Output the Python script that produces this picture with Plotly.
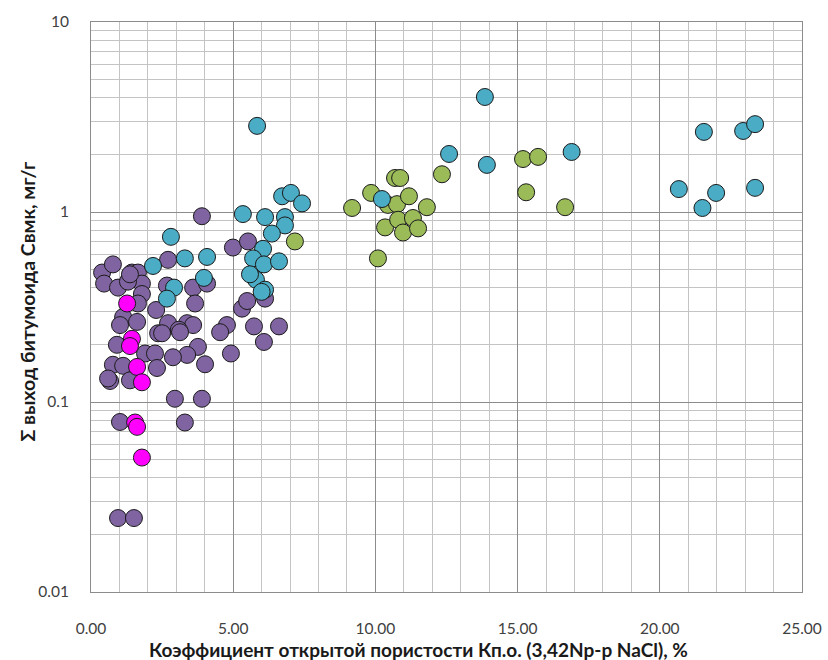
import plotly.graph_objects as go

# Series 1 (purple)
purple_x = [0.39, 0.77, 0.46, 0.95, 1.44, 1.65, 1.34, 1.79, 1.79, 2.71, 2.67, 3.59, 4.08, 3.66, 2.29,
            1.65, 1.13, 1.62, 1.02, 0.91, 2.36, 2.71, 2.50, 3.38, 3.59, 3.09, 4.78, 4.54, 5.31, 5.49,
            5.73, 6.61, 6.08, 4.92, 3.76, 3.38, 2.88, 4.01, 1.90, 2.25, 2.32, 0.77, 1.13, 0.67, 1.37,
            2.95, 3.90, 1.02, 3.30, 0.95, 1.51, 3.90, 4.99, 5.52, 6.12, 1.30, 1.37, 0.60, 3.13]
purple_y = [0.48, 0.53, 0.42, 0.40, 0.48, 0.48, 0.44, 0.42, 0.37, 0.56, 0.41, 0.40, 0.42, 0.33, 0.305,
            0.33, 0.28, 0.264, 0.254, 0.20, 0.23, 0.26, 0.23, 0.26, 0.254, 0.24, 0.254, 0.233, 0.31, 0.34,
            0.25, 0.25, 0.207, 0.18, 0.195, 0.177, 0.172, 0.158, 0.18, 0.18, 0.151, 0.157, 0.155, 0.129, 0.13,
            0.104, 0.104, 0.0785, 0.078, 0.0245, 0.0245, 0.95, 0.65, 0.70, 0.35, 0.43, 0.47, 0.133, 0.233]

# Series 2 (green)
green_x = [7.17, 9.18, 9.85, 10.09, 10.34, 10.44, 10.69, 10.87, 10.76, 10.80, 10.97, 11.18, 11.32,
           11.50, 11.81, 12.34, 15.19, 15.72, 15.30, 16.67]
green_y = [0.70, 1.05, 1.26, 0.57, 0.83, 1.09, 1.51, 1.51, 1.10, 0.91, 0.78, 1.21, 0.93,
           0.82, 1.06, 1.58, 1.90, 1.95, 1.27, 1.06]

# Series 3 (magenta)
magenta_x = [1.27, 1.44, 1.37, 1.62, 1.79, 1.55, 1.62, 1.79]
magenta_y = [0.33, 0.215, 0.197, 0.153, 0.127, 0.078, 0.074, 0.051]

# Series 4 (teal)
teal_x = [5.84, 13.85, 13.92, 12.59, 16.90, 21.55, 22.93, 23.35, 20.67, 21.98, 21.50, 23.35, 10.23,
          6.72, 7.03, 7.42, 5.34, 6.12, 6.82, 6.82, 6.36, 6.05, 5.70, 6.08, 6.61, 5.80, 6.12, 5.59,
          4.08, 3.30, 3.97, 2.81, 2.18, 2.92, 2.67, 6.00]
teal_y = [2.84, 4.03, 1.77, 2.02, 2.07, 2.64, 2.67, 2.90, 1.32, 1.26, 1.05, 1.34, 1.17,
          1.21, 1.26, 1.11, 0.975, 0.94, 0.94, 0.85, 0.77, 0.64, 0.57, 0.53, 0.55, 0.44, 0.39, 0.47,
          0.58, 0.57, 0.45, 0.74, 0.52, 0.40, 0.35, 0.38]

x_ticks = [0, 5, 10, 15, 20, 25]
x_tick_labels = ["0.00", "5.00", "10.00", "15.00", "20.00", "25.00"]
y_ticks = [0.01, 0.1, 1, 10]
y_tick_labels = ["0.01", "0.1", "1", "10"]

x_title = "Коэффициент открытой пористости Кп.о. (3,42Np-p NaCl), %"
y_title = "Σ выход битумоида Свмк, мг/г"

fig = go.Figure()

def add(xs, ys, color):
    fig.add_trace(go.Scatter(
        x=xs, y=ys, mode="markers",
        marker=dict(size=17, color=color, line=dict(color="#1a1a1a", width=1)),
        showlegend=False, hoverinfo="x+y"))

add(purple_x, purple_y, "#8064A2")
add(green_x, green_y, "#9BBB59")
add(magenta_x, magenta_y, "#FF00FF")
add(teal_x, teal_y, "#4BACC6")

minor_y = [m * 10 ** e for e in (-2, -1, 0) for m in range(2, 10)]

font_family = "Lato, 'Open Sans', sans-serif"

fig.update_layout(
    width=828, height=660,
    margin=dict(l=91, r=26, t=22, b=68, autoexpand=False),
    paper_bgcolor="white", plot_bgcolor="white",
    font=dict(family=font_family, size=15.5, color="#404040"),
    xaxis=dict(
        range=[0, 25], tickmode="array", tickvals=x_ticks, ticktext=x_tick_labels,
        showgrid=True, gridcolor="#8c8c8c", gridwidth=1,
        minor=dict(dtick=1, showgrid=True, gridcolor="#c4c4c4", gridwidth=1),
        showline=True, linecolor="#8c8c8c", mirror=True, zeroline=False,
        ticks="", ticklabelstandoff=22, automargin=False,
        tickfont=dict(size=15.5, color="#404040"),
    ),
    yaxis=dict(
        type="log", range=[-2, 1], tickmode="array", tickvals=y_ticks, ticktext=y_tick_labels,
        showgrid=True, gridcolor="#8c8c8c", gridwidth=1,
        minor=dict(tickmode="array", tickvals=minor_y, showgrid=True, gridcolor="#c4c4c4", gridwidth=1),
        showline=True, linecolor="#8c8c8c", mirror=True, zeroline=False,
        ticks="", ticklabelstandoff=18, automargin=False,
        tickfont=dict(size=15.5, color="#404040"),
    ),
    annotations=[
        dict(text="<b>" + x_title + "</b>", xref="paper", yref="paper", x=0.461, y=-0.1,
             xanchor="center", yanchor="middle", showarrow=False,
             font=dict(size=19, color="#1a1a1a", family=font_family)),
        dict(text="<b>" + y_title + "</b>", xref="paper", yref="paper", x=-0.089, y=0.509,
             xanchor="center", yanchor="middle", showarrow=False, textangle=-90,
             font=dict(size=19.5, color="#1a1a1a", family=font_family)),
    ],
)

fig.write_html("out.html", config={"displayModeBar": False},
               post_script="document.body.style.margin='0';document.body.style.overflow='hidden';")
